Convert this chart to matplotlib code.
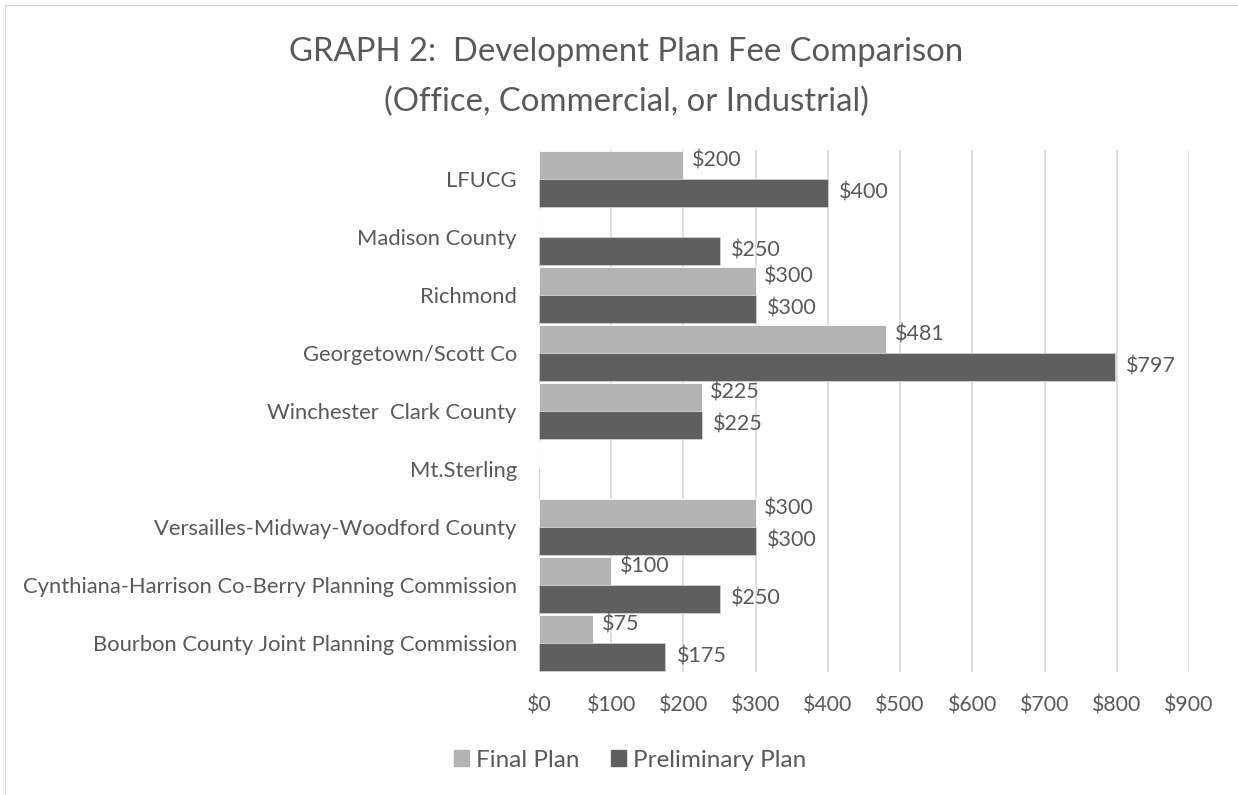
import numpy as np
import matplotlib
matplotlib.use("Agg")
import matplotlib.pyplot as plt
from matplotlib.patches import Patch
from matplotlib.lines import Line2D

plt.rcParams["font.family"] = ["Lato", "DejaVu Sans"]

# data
categories = [
    "LFUCG",
    "Madison County",
    "Richmond",
    "Georgetown/Scott Co",
    "Winchester  Clark County",
    "Mt.Sterling",
    "Versailles-Midway-Woodford County",
    "Cynthiana-Harrison Co-Berry Planning Commission",
    "Bourbon County Joint Planning Commission",
]
final_plan = [200, np.nan, 300, 481, 225, np.nan, 300, 100, 75]
preliminary_plan = [400, 250, 300, 797, 225, np.nan, 300, 250, 175]
x_ticks = [0, 100, 200, 300, 400, 500, 600, 700, 800, 900]

TEXT = "#595959"
LIGHT = "#b3b3b3"
DARK = "#5f5f5f"

fig = plt.figure(figsize=(12.38, 7.95), dpi=100)
ax = fig.add_axes([0.4354, 0.1547, 0.9604 - 0.4354, 0.8113 - 0.1547])

y = np.arange(len(categories))
h = 0.48
fin = np.array(final_plan, dtype=float)
pre = np.array(preliminary_plan, dtype=float)

ax.barh(y - h / 2, np.nan_to_num(fin), height=h, color=LIGHT,
        edgecolor="white", linewidth=0.6, zorder=3)
ax.barh(y + h / 2, np.nan_to_num(pre), height=h, color=DARK,
        edgecolor="#d0d0d0", linewidth=0.6, zorder=3)

for yi, v in zip(y - h / 2, fin):
    if not np.isnan(v):
        ax.annotate(f"${v:.0f}", (v, yi), xytext=(6, 3), textcoords="offset points",
                    va="center", ha="left", fontsize=15.5, color=TEXT)
for yi, v in zip(y + h / 2, pre):
    if not np.isnan(v):
        ax.annotate(f"${v:.0f}", (v, yi), xytext=(8, 0), textcoords="offset points",
                    va="center", ha="left", fontsize=15.5, color=TEXT)

ax.set_xlim(0, 900)
ax.set_ylim(len(categories) - 0.5, -0.5)
ax.set_xticks(x_ticks)
ax.set_xticklabels([f"${t}" for t in x_ticks], fontsize=15.3, color=TEXT)
ax.set_yticks(y)
ax.set_yticklabels(categories, fontsize=15.8, color=TEXT)
ax.tick_params(length=0, pad=17, axis="x")
ax.tick_params(length=0, pad=16, axis="y")
ax.grid(axis="x", color="#d9d9d9", linewidth=1.2, zorder=0)
for s in ax.spines.values():
    s.set_visible(False)

fig.text(0.506, 0.934, "GRAPH 2:  Development Plan Fee Comparison",
         ha="center", va="center", fontsize=23.7, color=TEXT)
fig.text(0.506, 0.872, "(Office, Commercial, or Industrial)",
         ha="center", va="center", fontsize=23.7, color=TEXT)

handles = [Patch(color=LIGHT, label="Final Plan"),
           Patch(color=DARK, label="Preliminary Plan")]
fig.legend(handles=handles, loc="center", bbox_to_anchor=(0.509, 0.044), ncol=2,
           frameon=False, fontsize=17.5, labelcolor=TEXT, handlelength=0.62,
           handleheight=0.62, handletextpad=0.3, columnspacing=1.3)

# chart border (only left and top visible in the crop)
fig.add_artist(Line2D([5 / 1238, 5 / 1238], [0, 1 - 5 / 795], transform=fig.transFigure,
                      color="#d9d9d9", linewidth=1))
fig.add_artist(Line2D([5 / 1238, 1], [1 - 5 / 795, 1 - 5 / 795], transform=fig.transFigure,
                      color="#d9d9d9", linewidth=1))

fig.savefig("out.png", dpi=100)
